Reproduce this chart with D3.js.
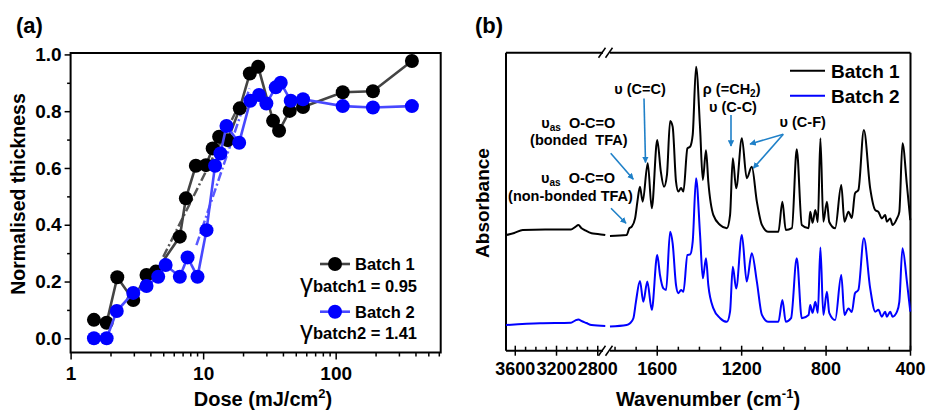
<!DOCTYPE html>
<html><head><meta charset="utf-8">
<script src="https://cdn.jsdelivr.net/npm/d3@7"></script>
<style>
body{margin:0;background:#fff}
svg{display:block}
text{font-family:"Liberation Sans",Arial,sans-serif;font-weight:bold;fill:#000}
</style>
</head><body>
<svg id="c" width="927" height="411"></svg>
<script>
// ---------- Panel (a) data ----------
const doseBatch1 = [1.50,1.87,2.25,2.97,3.74,4.40,6.67,7.41,8.81,10.5,11.8,13.2,15.3,18.9,22.5,26.0,33.7,37.4,45.0,56.7,113,191,376];
const thickBatch1 = [0.065,0.055,0.215,0.135,0.223,0.235,0.358,0.493,0.608,0.61,0.669,0.71,0.698,0.81,0.933,0.957,0.766,0.731,0.801,0.815,0.867,0.870,0.977];
const doseBatch2 = [1.50,1.87,2.23,2.97,3.74,4.58,5.21,6.67,7.63,9.07,10.6,12.3,13.5,15.0,18.7,22.7,26.4,30.0,35.3,38.5,45.8,56.7,113,191,376];
const thickBatch2 = [0,0,0.096,0.16,0.184,0.217,0.258,0.217,0.285,0.217,0.381,0.608,0.651,0.748,0.689,0.837,0.857,0.827,0.884,0.9,0.837,0.842,0.818,0.813,0.818];
const fitDose1 = [5.0, 17.9], fitThick1 = [0.287, 0.804];
const fitDose2 = [8.9, 22.4], fitThick2 = [0.328, 0.88];
const doseTicks = [1, 10, 100];
const thickTicks = [0, 0.2, 0.4, 0.6, 0.8, 1.0];
const gammaLabels = ["batch1 = 0.95", "batch2 = 1.41"];
const seriesNames = ["Batch 1", "Batch 2"];

// ---------- Panel (b) data: [wavenumber, absorbance] ----------
const batch1High = [[3690,0.388],[3610,0.395],[3527,0.405],[3310,0.407],[3060,0.407],[3020,0.415],[2987,0.422],[2960,0.412],[2927,0.405],[2860,0.394],[2800,0.392],[2727,0.388]];
const batch1Low = [[1824,0.385],[1745,0.388],[1732,0.411],[1721,0.416],[1705,0.444],[1694,0.500],[1682,0.550],[1669,0.500],[1645,0.629],[1626,0.478],[1600,0.707],[1583,0.601],[1568,0.550],[1554,0.590],[1539,0.771],[1527,0.752],[1511,0.567],[1500,0.534],[1487,0.546],[1476,0.534],[1457,0.679],[1444,0.685],[1432,0.724],[1416,0.953],[1397,0.746],[1384,0.573],[1369,0.673],[1358,0.567],[1334,0.455],[1302,0.422],[1270,0.411],[1255,0.455],[1242,0.646],[1226,0.545],[1199,0.713],[1176,0.579],[1152,0.617],[1128,0.500],[1104,0.422],[1073,0.399],[1026,0.399],[1007,0.500],[991,0.405],[962,0.411],[939,0.676],[915,0.422],[883,0.411],[875,0.466],[864,0.429],[851,0.472],[839,0.432],[827,0.713],[813,0.433],[796,0.500],[785,0.432],[757,0.411],[728,0.556],[713,0.433],[694,0.466],[678,0.445],[663,0.528],[647,0.539],[621,0.741],[591,0.545],[567,0.472],[552,0.466],[536,0.444],[520,0.455],[512,0.433],[496,0.444],[485,0.422],[464,0.444],[453,0.466],[438,0.696],[417,0.556],[401,0.438]];
const batch2High = [[3690,0.086],[3360,0.092],[3060,0.094],[3020,0.101],[2987,0.105],[2960,0.100],[2910,0.093],[2860,0.086],[2727,0.083]];
const batch2Low = [[1824,0.081],[1745,0.086],[1729,0.092],[1713,0.109],[1701,0.164],[1682,0.234],[1666,0.164],[1647,0.232],[1626,0.137],[1600,0.321],[1587,0.254],[1571,0.209],[1558,0.204],[1539,0.399],[1527,0.360],[1511,0.220],[1500,0.193],[1487,0.204],[1476,0.198],[1457,0.321],[1444,0.323],[1432,0.366],[1416,0.579],[1397,0.388],[1384,0.243],[1369,0.310],[1358,0.220],[1334,0.142],[1302,0.109],[1270,0.097],[1255,0.131],[1242,0.282],[1226,0.209],[1199,0.388],[1176,0.232],[1152,0.327],[1128,0.232],[1104,0.120],[1073,0.097],[1026,0.097],[1007,0.170],[991,0.097],[966,0.109],[939,0.310],[915,0.109],[883,0.120],[875,0.153],[864,0.127],[851,0.164],[839,0.127],[827,0.346],[813,0.120],[796,0.198],[785,0.127],[757,0.103],[728,0.254],[713,0.120],[694,0.142],[678,0.130],[663,0.193],[647,0.204],[621,0.377],[591,0.209],[567,0.131],[552,0.137],[536,0.114],[520,0.131],[512,0.114],[496,0.131],[485,0.114],[464,0.131],[453,0.164],[438,0.344],[417,0.232],[401,0.131]];
const wnTicksHigh = [3600, 3200, 2800];
const wnTicksLow = [1600, 1200, 800, 400];

const svg = d3.select("#c");

// ================= Panel (a) =================
const xA = d3.scaleLog().domain([1, 620]).range([70.6, 440.7]);
const yA = d3.scaleLinear().domain([-0.05, 1.005]).range([352.5, 53]);
const gA = svg.append("g");

const minorDose = [];
[1,10,100].forEach(b => { for (let k = 2; k <= 9; k++) if (b*k <= 620) minorDose.push(b*k); });
gA.append("g").attr("transform", `translate(0,${yA.range()[0]})`)
  .call(d3.axisBottom(xA).tickValues(minorDose).tickSize(4).tickFormat(""))
  .call(g => g.select(".domain").remove())
  .selectAll("line").attr("stroke-width", 1.5);
gA.append("g").attr("transform", `translate(0,${yA.range()[0]})`)
  .call(d3.axisBottom(xA).tickValues(doseTicks).tickSize(7).tickPadding(7).tickFormat(d3.format("d")))
  .call(g => g.select(".domain").remove())
  .call(g => g.selectAll("line").attr("stroke-width", 1.5))
  .selectAll("text").style("font-size", "19px");
gA.append("g").attr("transform", `translate(${xA.range()[0]},0)`)
  .call(d3.axisLeft(yA).tickValues([0.1,0.3,0.5,0.7,0.9]).tickSize(3.5).tickFormat(""))
  .call(g => g.select(".domain").remove())
  .selectAll("line").attr("stroke-width", 1.5);
gA.append("g").attr("transform", `translate(${xA.range()[0]},0)`)
  .call(d3.axisLeft(yA).tickValues(thickTicks).tickSize(6).tickPadding(3).tickFormat(d3.format(".1f")))
  .call(g => g.select(".domain").remove())
  .call(g => g.selectAll("line").attr("stroke-width", 1.5))
  .selectAll("text").style("font-size", "19px");

gA.append("rect").attr("x", xA.range()[0]).attr("y", yA.range()[1])
  .attr("width", xA.range()[1]-xA.range()[0]).attr("height", yA.range()[0]-yA.range()[1])
  .attr("fill", "none").attr("stroke", "#000").attr("stroke-width", 2);

const fitLine = d3.line().x(d => xA(d[0])).y(d => yA(d[1]));
gA.append("path").datum(fitDose1.map((d,i)=>[d, fitThick1[i]])).attr("d", fitLine)
  .attr("stroke", "#555").attr("stroke-width", 2.5).attr("fill", "none").attr("stroke-dasharray", "9,3,2,3");
gA.append("path").datum(fitDose2.map((d,i)=>[d, fitThick2[i]])).attr("d", fitLine)
  .attr("stroke", "#5a5aff").attr("stroke-width", 2.5).attr("fill", "none").attr("stroke-dasharray", "9,3,2,3");

function drawSeries(dose, thick, lineCol, dotCol) {
  const pts = dose.map((d,i)=>[d, thick[i]]);
  gA.append("path").datum(pts).attr("d", fitLine).attr("fill", "none")
    .attr("stroke", lineCol).attr("stroke-width", 2.6);
  gA.append("g").selectAll("circle").data(pts).join("circle")
    .attr("cx", d => xA(d[0])).attr("cy", d => yA(d[1])).attr("r", 7).attr("fill", dotCol);
}
drawSeries(doseBatch1, thickBatch1, "#444", "#000");
drawSeries(doseBatch2, thickBatch2, "#4848ff", "#0000ff");

const legA = [{y:264, line:"#444", dot:"#000", gy:292},{y:311.7, line:"#4848ff", dot:"#0000ff", gy:339}];
legA.forEach((l,i) => {
  gA.append("line").attr("x1", 320).attr("x2", 350).attr("y1", l.y).attr("y2", l.y)
    .attr("stroke", l.line).attr("stroke-width", 2.6);
  gA.append("circle").attr("cx", 335).attr("cy", l.y).attr("r", 7).attr("fill", l.dot);
  gA.append("text").attr("x", 355).attr("y", l.y + 5.8).style("font-size", "16.5px").text(seriesNames[i]);
  const t = gA.append("text").attr("x", 417).attr("y", l.gy).attr("text-anchor", "end");
  t.append("tspan").style("font-size", "26px").style("font-weight", "normal").text("γ");
  t.append("tspan").style("font-size", "16.5px").text(gammaLabels[i]);
});

svg.append("text").attr("x", 16).attr("y", 33).style("font-size", "22px").text("(a)");
const xt = svg.append("text").attr("x", 263).attr("y", 406).attr("text-anchor", "middle").style("font-size", "20px");
xt.append("tspan").text("Dose (mJ/cm");
xt.append("tspan").attr("dy", -8).style("font-size", "13px").text("2");
xt.append("tspan").attr("dy", 8).text(")");
svg.append("text").attr("transform", "translate(25,194) rotate(-90)").attr("text-anchor", "middle")
  .style("font-size", "19.5px").text("Normalised thickness");

// ================= Panel (b) =================
const yB = d3.scaleLinear().domain([0, 1]).range([350.7, 52.7]);
const xHigh = d3.scaleLinear().domain([3690, 2720]).range([506, 606]);
const xLow = d3.scaleLinear().domain([1830, 400]).range([608.7, 910.5]);
const gB = svg.append("g");
const yTop = yB.range()[1], yBot = yB.range()[0];

const fr = gB.append("g").attr("stroke", "#000").attr("stroke-width", 2).attr("fill", "none");
fr.append("line").attr("x1", 506).attr("x2", 506).attr("y1", yTop).attr("y2", yBot);
fr.append("line").attr("x1", 910.5).attr("x2", 910.5).attr("y1", yTop).attr("y2", yBot);
[yTop, yBot].forEach(y => {
  fr.append("line").attr("x1", 506).attr("x2", 603).attr("y1", y).attr("y2", y);
  fr.append("line").attr("x1", 610).attr("x2", 910.5).attr("y1", y).attr("y2", y);
  fr.append("line").attr("x1", 598.5).attr("x2", 605.5).attr("y1", y+5).attr("y2", y-5).attr("stroke-width", 1.5);
  fr.append("line").attr("x1", 605.5).attr("x2", 612.5).attr("y1", y+5).attr("y2", y-5).attr("stroke-width", 1.5);
});

const specHigh = d3.line().x(d => xHigh(d[0])).y(d => yB(d[1])).curve(d3.curveMonotoneX);
const specLow = d3.line().x(d => xLow(d[0])).y(d => yB(d[1])).curve(d3.curveMonotoneX);
[[batch2High, batch2Low, "#0000ff"], [batch1High, batch1Low, "#000"]].forEach(([h, l, c]) => {
  gB.append("path").datum(h).attr("d", specHigh).attr("fill", "none").attr("stroke", c).attr("stroke-width", 2).attr("stroke-linejoin", "round");
  gB.append("path").datum(l).attr("d", specLow).attr("fill", "none").attr("stroke", c).attr("stroke-width", 2).attr("stroke-linejoin", "round");
});

[["#000", 70.7], ["#0000ff", 95.7]].forEach(([c, y], i) => {
  gB.append("line").attr("x1", 790).attr("x2", 825).attr("y1", y).attr("y2", y).attr("stroke", c).attr("stroke-width", 2);
  gB.append("text").attr("x", 831).attr("y", y + 6.8).style("font-size", "19px").text(seriesNames[i]);
});

const arrowCol = "#1f80c8";
svg.append("defs").append("marker").attr("id", "ah").attr("viewBox", "0 0 10 10")
  .attr("refX", 9).attr("refY", 5).attr("markerWidth", 4).attr("markerHeight", 4).attr("orient", "auto")
  .append("path").attr("d", "M0,0 L10,5 L0,10 z").attr("fill", arrowCol);
const arrows = [
  [644, 98.5, 645.5, 162.5],
  [610.7, 153.3, 633.3, 179.3],
  [611, 208.3, 626, 223.3],
  [731, 115, 731, 146],
  [783.3, 134.3, 750, 144],
  [783.3, 134.3, 753.3, 168.3]
];
arrows.forEach(a => svg.append("line").attr("x1", a[0]).attr("y1", a[1]).attr("x2", a[2]).attr("y2", a[3])
  .attr("stroke", arrowCol).attr("stroke-width", 1.6).attr("marker-end", "url(#ah)"));

function ann(x, y, parts) {
  const t = svg.append("text").attr("x", x).attr("y", y).attr("text-anchor", "middle")
    .style("font-size", "14.5px").style("white-space", "pre");
  parts.forEach(p => {
    const s = t.append("tspan").text(p.t);
    if (p.sub) s.attr("dy", 3).style("font-size", "10px");
    if (p.up) s.attr("dy", -3);
  });
}
ann(640, 94.3, [{t:"υ (C=C)"}]);
ann(731.7, 94.3, [{t:"ρ (=CH"},{t:"2", sub:true},{t:")", up:true}]);
ann(733, 111.7, [{t:"υ (C-C)"}]);
ann(802.7, 126.7, [{t:"υ (C-F)"}]);
ann(578.3, 127.7, [{t:"υ"},{t:"as", sub:true},{t:"  O-C=O", up:true}]);
ann(578.8, 145, [{t:"(bonded  TFA)"}]);
ann(578, 183.3, [{t:"υ"},{t:"as", sub:true},{t:"  O-C=O", up:true}]);
ann(570.5, 200.7, [{t:"(non-bonded TFA)"}]);

svg.append("text").attr("x", 475).attr("y", 33).style("font-size", "22px").text("(b)");
const wt = svg.append("text").attr("x", 708).attr("y", 406).attr("text-anchor", "middle").style("font-size", "20px");
wt.append("tspan").text("Wavenumber (cm");
wt.append("tspan").attr("dy", -8).style("font-size", "13px").text("-1");
wt.append("tspan").attr("dy", 8).text(")");
svg.append("text").attr("transform", "translate(489,203) rotate(-90)").attr("text-anchor", "middle")
  .style("font-size", "19px").text("Absorbance");

// ticks for panel (b)
function ticksB(scale, majors, minors) {
  const tg = svg.append("g");
  minors.forEach(v => tg.append("line").attr("x1", scale(v)).attr("x2", scale(v))
    .attr("y1", yBot).attr("y2", yBot - 4).attr("stroke", "#000").attr("stroke-width", 1.5));
  majors.forEach(v => {
    tg.append("line").attr("x1", scale(v)).attr("x2", scale(v))
      .attr("y1", yBot - 5).attr("y2", yBot + 5).attr("stroke", "#000").attr("stroke-width", 1.5);
  });
}
ticksB(xHigh, wnTicksHigh, d3.range(3600, 2720, -100).filter(v => !wnTicksHigh.includes(v)));
ticksB(xLow, wnTicksLow, d3.range(1800, 400, -100).filter(v => !wnTicksLow.includes(v)));
wnTicksHigh.forEach(v => svg.append("text").attr("x", xHigh(v)).attr("y", yBot + 24.5)
  .attr("text-anchor", "middle").style("font-size", "18px").text(String(v)));
const lowLabels = svg.append("text").attr("y", yBot + 24.5).attr("text-anchor", "middle").style("font-size", "18px");
wnTicksLow.forEach(v => lowLabels.append("tspan").attr("x", xLow(v)).attr("y", yBot + 24.5).text(String(v)));
</script>
</body></html>
